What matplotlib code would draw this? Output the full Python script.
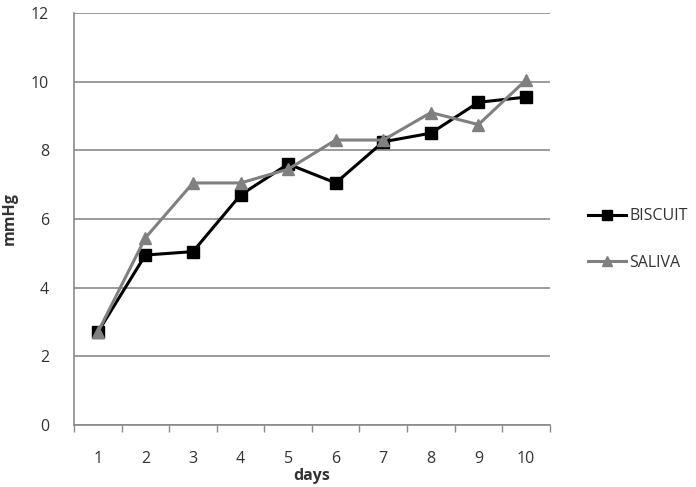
import numpy as np
import matplotlib as mpl
import matplotlib.pyplot as plt

mpl.rcParams.update({'font.family': ['Open Sans', 'DejaVu Sans'], 'font.size': 11})

days = [1, 2, 3, 4, 5, 6, 7, 8, 9, 10]
biscuit = [2.7, 4.95, 5.05, 6.7, 7.6, 7.05, 8.25, 8.5, 9.4, 9.55]
saliva = [2.7, 5.45, 7.05, 7.05, 7.45, 8.3, 8.3, 9.1, 8.75, 10.05]
y_ticks = [0, 2, 4, 6, 8, 10, 12]

fig = plt.figure(figsize=(6.96, 4.87), dpi=100)
ax = fig.add_axes([0.1063, 0.1273, 0.6837, 0.846])

ax.plot(days, biscuit, color='black', lw=2.2, marker='s', ms=9, label='BISCUIT', zorder=3)
ax.plot(days, saliva, color='#808080', lw=2.2, marker='^', ms=9, label='SALIVA', zorder=4)

ax.set_xlim(0.5, 10.5)
ax.set_ylim(0, 12)
ax.set_yticks(y_ticks)
ax.yaxis.grid(True, color='#8a8a8a', lw=1.2)
ax.set_axisbelow(True)
ax.tick_params(axis='y', length=0, pad=18, labelsize=11.5, colors='#333333')

# category axis: labels at centers, tick marks at boundaries
ax.set_xticks(days)
ax.set_xticks(np.arange(0.5, 11, 1), minor=True)
ax.tick_params(axis='x', which='major', length=0, pad=19, labelsize=11.5, colors='#333333')
ax.tick_params(axis='x', which='minor', length=5, width=1, color='#8a8a8a', direction='out')

for s in ['top', 'right']:
    ax.spines[s].set_visible(False)
ax.spines['left'].set_color('#8a8a8a')
ax.spines['bottom'].set_color('#8a8a8a')
ax.spines['left'].set_linewidth(1.2)
ax.spines['bottom'].set_linewidth(1.2)

ax.set_xlabel('days', fontweight='bold', fontsize=11.5, labelpad=0.5, color='#333333')
ax.set_ylabel('mmHg', fontweight='bold', fontsize=11.5, color='#333333')
ax.yaxis.set_label_coords(-0.118, 0.5)

ax.legend(loc='center left', bbox_to_anchor=(1.05, 0.45), frameon=False, handlelength=2.4,
          handletextpad=0.2, labelspacing=1.9, fontsize=11.5, markerscale=0.8,
          labelcolor='#333333')

fig.savefig('out.png', dpi=100)
